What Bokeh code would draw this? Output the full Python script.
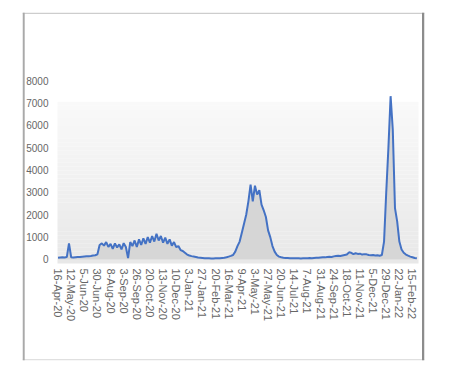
import numpy as np
from bokeh.plotting import figure
from bokeh.models import FixedTicker, Range1d, ColumnDataSource
from bokeh.embed import file_html
from bokeh.resources import INLINE

# ---- data -------------------------------------------------------------
tick_labels = ["16-Apr-20", "12-May-20", "5-Jun-20", "30-Jun-20", "8-Aug-20",
               "3-Sep-20", "26-Sep-20", "20-Oct-20", "13-Nov-20", "10-Dec-20",
               "3-Jan-21", "27-Jan-21", "20-Feb-21", "16-Mar-21", "9-Apr-21",
               "3-May-21", "27-May-21", "20-Jun-21", "14-Jul-21", "7-Aug-21",
               "31-Aug-21", "24-Sep-21", "18-Oct-21", "11-Nov-21", "5-Dec-21",
               "29-Dec-21", "22-Jan-22", "15-Feb-22"]
label_every = 24      # categories between tick labels
sample_every = 4      # categories between sampled values

daily_cases = [
    80, 90, 100, 90, 110, 720, 100, 90, 100, 110,
    110, 120, 130, 140, 150, 160, 180, 190, 230, 650,
    720, 620, 780, 560, 700, 480, 720, 540, 680, 450,
    730, 560, 60, 780, 600, 850, 560, 900, 650, 950,
    700, 1000, 750, 1050, 800, 1150, 850, 1050, 750, 980,
    700, 900, 620, 780, 550, 600, 420, 380, 300, 220,
    180, 150, 130, 110, 90, 80, 70, 60, 60, 55,
    50, 50, 55, 60, 60, 70, 80, 100, 130, 160,
    200, 350, 600, 800, 1200, 1600, 2000, 2600, 3350, 2600,
    3300, 2900, 3100, 2450, 2200, 1900, 1300, 1000, 600, 350,
    200, 130, 100, 80, 70, 70, 60, 60, 55, 60,
    55, 50, 55, 60, 60, 65, 60, 70, 75, 80,
    90, 100, 95, 110, 120, 110, 140, 160, 170, 160,
    180, 200, 220, 320, 300, 240, 280, 250, 260, 220,
    240, 230, 200, 190, 200, 180, 190, 170, 200, 800,
    3000, 5000, 7300, 5800, 2300, 1700, 800, 450, 300, 220,
    170, 130, 100, 70, 60,
]
y_ticks = [0, 1000, 2000, 3000, 4000, 5000, 6000, 7000, 8000]

# ---- geometry (pixels) --------------------------------------------------
W, H = 437, 364
box_l, box_r, box_t, box_b = 22, 424, 12, 360      # chart border box
pa_l, pa_r, pa_t, pa_b = 57, 418, 72, 263          # inner plot area
ax0, ax1 = -1, 659                                 # x data at pa_l / pa_r
ay0, ay1 = -179, 8358                              # y data at pa_b / pa_t
kx = (pa_r - pa_l) / (ax1 - ax0)
ky = (pa_b - pa_t) / (ay1 - ay0)
x0 = ax0 - (pa_l - box_l) / kx
x1 = ax1 + (box_r - pa_r) / kx
y0 = ay0 - (box_b - pa_b) / ky
y1 = ay0 + (pa_b - box_t) / ky

x_idx = [i * sample_every for i in range(len(daily_cases))]
src = ColumnDataSource(dict(x=x_idx, y=daily_cases, base=[0] * len(daily_cases)))

p = figure(width=W, height=H, output_backend="svg", toolbar_location=None,
           x_range=Range1d(x0, x1), y_range=Range1d(y0, y1))
p.min_border_left = box_l
p.min_border_right = W - box_r
p.min_border_top = box_t
p.min_border_bottom = H - box_b
p.outline_line_color = None
p.background_fill_color = "white"
p.border_fill_color = "white"
p.xgrid.grid_line_color = None
p.ygrid.grid_line_color = None

# plot-area gradient (light grey, darker toward the bottom)
n_bands = 40
g_top = 7050.0
edges = np.linspace(g_top, ay0, n_bands + 1)
cols = []
for k in range(n_bands):
    t = k / (n_bands - 1)
    c = int(round(249 - t * 17))
    cols.append("#%02x%02x%02x" % (c, c, c))
p.quad(left=ax0, right=ax1, top=edges[:-1], bottom=edges[1:],
       fill_color=cols, line_color=None)

# area + line
p.varea(x="x", y1="base", y2="y", source=src, fill_color="#d6d6d6")
p.line(x="x", y="y", source=src, line_color="#4472c4", line_width=2)

# chart border (frame edges)
p.quad(left=[x0, x0, x0, x1 - 2.5 / kx],
       right=[x1, x1, x0 + 2.2 / kx, x1],
       top=[y1, y0 + 1.5 / ky, y1, y1],
       bottom=[y1 - 1.5 / ky, y0, y0, y0],
       fill_color=["#cdcdcd", "#e0e0e0", "#a9a9a9", "#8c8c8c"], line_color=None)

# axes, placed inside the frame
font = "Liberation Sans"
p.yaxis.fixed_location = ax0
p.yaxis.ticker = FixedTicker(ticks=y_ticks)
p.yaxis.axis_line_color = None
p.yaxis.major_tick_line_color = None
p.yaxis.minor_tick_line_color = None
p.yaxis.major_tick_out = 0
p.yaxis.major_tick_in = 0
p.yaxis.major_label_standoff = 9
p.yaxis.major_label_text_font = font
p.yaxis.major_label_text_font_size = "10px"
p.yaxis.major_label_text_color = "#666666"

tick_pos = [i * label_every for i in range(len(tick_labels))]
p.xaxis.fixed_location = ay0
p.xaxis.ticker = FixedTicker(ticks=tick_pos)
p.xaxis.major_label_overrides = {t: lab for t, lab in zip(tick_pos, tick_labels)}
p.xaxis.major_label_orientation = "vertical"
p.xaxis.axis_line_color = None
p.xaxis.major_tick_line_color = None
p.xaxis.minor_tick_line_color = None
p.xaxis.major_tick_out = 0
p.xaxis.major_tick_in = 0
p.xaxis.major_label_standoff = 5
p.xaxis.major_label_text_font = font
p.xaxis.major_label_text_font_size = "11px"
p.xaxis.major_label_text_color = "#666666"

open("out.html", "w").write(file_html(p, INLINE))
